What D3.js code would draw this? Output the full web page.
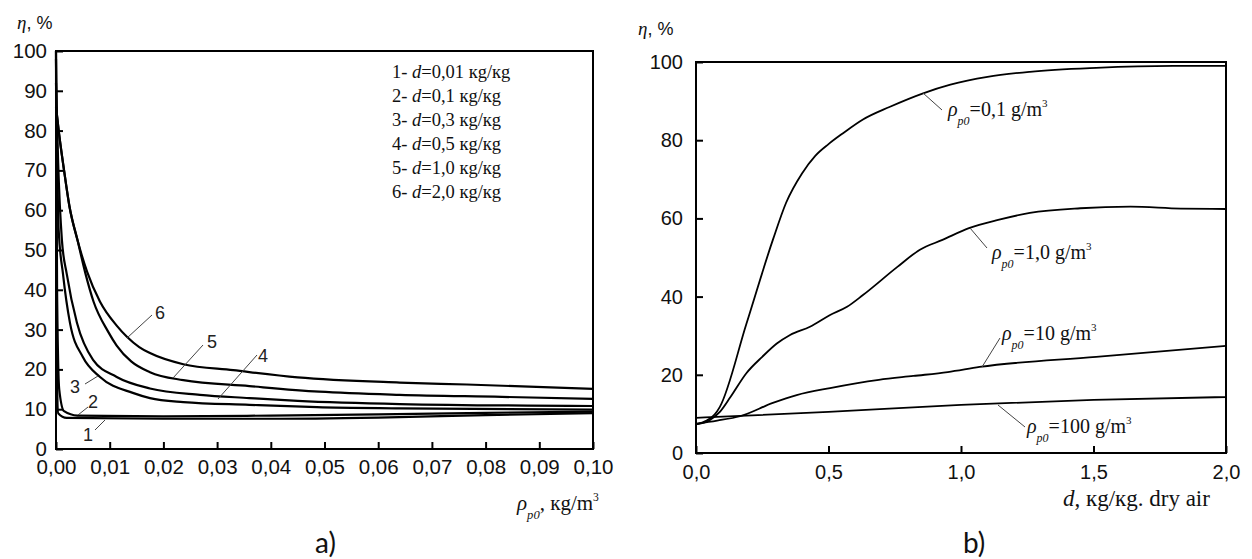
<!DOCTYPE html>
<html><head><meta charset="utf-8">
<script src="https://cdn.jsdelivr.net/npm/d3@7"></script>
<style>body{margin:0;background:#fff}</style>
</head><body><svg id="c" width="1252" height="559"></svg>
<script>
// ---------- data ----------
const leftXTicks = [0,0.01,0.02,0.03,0.04,0.05,0.06,0.07,0.08,0.09,0.10];
const leftYTicks = [0,10,20,30,40,50,60,70,80,90,100];
const rightXTicks = [0,0.5,1.0,1.5,2.0];
const rightYTicks = [0,20,40,60,80,100];

const legendNums = ["1","2","3","4","5","6"];
const legendVals = ["0,01","0,1","0,3","0,5","1,0","2,0"];

// panel a: eta (%) vs rho_p0 (kg/m3), one series per d
const curveD001 = [[0,100],[0.0001,30],[0.0004,9],[0.002,7.8],[0.02,7.6],[0.04,7.6],[0.06,7.9],[0.08,8.5],[0.1,9.0]];
const curveD01  = [[0,100],[0.0002,40],[0.0006,15],[0.0015,9.5],[0.004,8.4],[0.02,8.2],[0.04,8.4],[0.06,8.7],[0.08,9.1],[0.1,9.4]];
const curveD03  = [[0,98],[0.0002,75],[0.0005,55],[0.0013,44],[0.0026,31.7],[0.005,23.1],[0.0082,18.1],[0.0143,14.1],[0.0175,12.8],[0.0237,11.8],[0.036,11.1],[0.0486,10.5],[0.064,10.2],[0.1,9.9]];
const curveD05  = [[0,92],[0.0004,72],[0.0011,52.5],[0.002,44],[0.0039,31.7],[0.0069,22.4],[0.0113,18.1],[0.0175,15.2],[0.0268,13.6],[0.036,12.8],[0.045,12.1],[0.064,11.3],[0.1,10.8]];
const curveD10  = [[0,86],[0.0005,80],[0.0015,70],[0.0025,61],[0.004,52.5],[0.0055,44],[0.007,37],[0.0097,29.5],[0.0113,26],[0.014,22],[0.0175,19.3],[0.0237,17.3],[0.036,15.8],[0.049,14.4],[0.064,13.6],[0.083,13.1],[0.1,12.6]];
const curveD20  = [[0,86],[0.0005,80],[0.0015,70],[0.0025,61],[0.004,52.5],[0.0058,44.5],[0.0082,37],[0.0113,31],[0.0132,28.2],[0.0155,25.6],[0.0175,24.1],[0.0237,21.3],[0.033,19.8],[0.045,18.0],[0.064,16.7],[0.0765,16.2],[0.1,15.1]];
const seriesA = [curveD001, curveD01, curveD03, curveD05, curveD10, curveD20];

// panel b: eta (%) vs d (kg/kg dry air), one series per rho_p0
const rhoLabels = ["0,1","1,0","10","100"];
const curveR01  = [[0,7.3],[0.04,8.3],[0.07,9.8],[0.09,11.8],[0.19,33],[0.29,54.5],[0.34,64],[0.40,71.5],[0.45,76],[0.50,79],[0.555,81.8],[0.63,85.3],[0.73,88.5],[0.857,92],[0.96,94.2],[1.1,96.2],[1.26,97.5],[1.51,98.5],[1.8,99],[2.0,99]];
const curveR1   = [[0,7.3],[0.05,8.3],[0.09,10.5],[0.13,14.3],[0.19,20.4],[0.25,24.6],[0.305,28],[0.355,30.2],[0.43,32.3],[0.506,35.3],[0.57,37.4],[0.63,40.4],[0.76,47.6],[0.845,52],[0.93,54.5],[1.03,57.5],[1.14,59.6],[1.26,61.4],[1.45,62.6],[1.64,63],[1.83,62.5],[2.0,62.4]];
const curveR10  = [[0,7.5],[0.08,8.3],[0.166,9.4],[0.29,12.8],[0.38,14.8],[0.506,16.6],[0.69,18.7],[0.82,19.7],[0.95,20.7],[1.07,22],[1.51,24.6],[2.0,27.4]];
const curveR100 = [[0,9.0],[0.5,10.5],[1.0,12.3],[1.5,13.6],[2.0,14.3]];
const seriesB = [curveR01, curveR1, curveR10, curveR100];

// ---------- drawing ----------
const svg = d3.select("#c");
svg.append("rect").attr("width",1252).attr("height",559).attr("fill","#fff");

const sans = "'Liberation Sans', Arial, sans-serif";
const serif = "'Liberation Serif', 'Times New Roman', serif";

function panel(cfg){
  const x = d3.scaleLinear().domain(cfg.xd).range(cfg.xr);
  const y = d3.scaleLinear().domain([0,100]).range(cfg.yr);
  const g = svg.append("g");
  const ax = g.append("g").attr("transform",`translate(0,${cfg.yr[0]})`)
    .call(d3.axisBottom(x).tickValues(cfg.xt).tickSize(-7).tickPadding(cfg.xpad).tickFormat(cfg.xf));
  const ay = g.append("g").attr("transform",`translate(${cfg.xr[0]},0)`)
    .call(d3.axisLeft(y).tickValues(cfg.yt).tickSize(-7).tickPadding(cfg.ypad).tickFormat(d=>d));
  [ax,ay].forEach(a=>{
    a.select(".domain").remove();
    a.selectAll("line").attr("stroke","#000").attr("stroke-width",2);
    a.selectAll("text").attr("font-family",sans).attr("font-size",cfg.fs).attr("fill","#111");
  });
  const line = d3.line().x(d=>x(d[0])).y(d=>y(d[1])).curve(d3.curveMonotoneX);
  cfg.series.forEach(s=>{
    g.append("path").attr("d",line(s)).attr("fill","none").attr("stroke","#000")
      .attr("stroke-width",cfg.lw).attr("stroke-linejoin","round");
  });
  g.append("rect").attr("x",cfg.xr[0]).attr("y",cfg.yr[1])
    .attr("width",cfg.xr[1]-cfg.xr[0]).attr("height",cfg.yr[0]-cfg.yr[1])
    .attr("fill","none").attr("stroke","#000").attr("stroke-width",2);
  return {x,y,g};
}

const A = panel({xd:[0,0.1], xr:[56,593], yr:[449,51], xt:leftXTicks, yt:leftYTicks,
  xf:d=>d.toFixed(2).replace(".",","), xpad:10, ypad:9, fs:20.5, series:seriesA, lw:2.2});
const B = panel({xd:[0,2], xr:[696,1226], yr:[453,62], xt:rightXTicks, yt:rightYTicks,
  xf:d=>d.toFixed(1).replace(".",","), xpad:12, ypad:13, fs:20, series:seriesB, lw:1.8});

// y titles
function etaTitle(x,yb){
  const t = svg.append("text").attr("x",x).attr("y",yb).attr("font-size",19).attr("fill","#111");
  t.append("tspan").attr("font-family",serif).attr("font-style","italic").text("η");
  t.append("tspan").attr("font-family",sans).attr("font-size",18).text(", %");
}
etaTitle(17,29);
etaTitle(638,35);

// legend panel a
legendNums.forEach((n,i)=>{
  const t = svg.append("text").attr("x",392).attr("y",78+i*24)
    .attr("font-family",serif).attr("font-size",18.5).attr("fill","#111");
  t.append("tspan").text(n+"- ");
  t.append("tspan").attr("font-style","italic").text("d");
  t.append("tspan").text("="+legendVals[i]+" кg/кg");
});

// curve number labels panel a
const numLab = [
  {n:"1", tx:83, ty:441, l:[[95,430],[105,420]]},
  {n:"2", tx:88, ty:408, l:[[78,415],[88,407]]},
  {n:"3", tx:70, ty:393, l:[[85,384],[98,376]]},
  {n:"4", tx:258, ty:362, l:[[218,399],[257,355]]},
  {n:"5", tx:207, ty:348, l:[[173,378],[203,345]]},
  {n:"6", tx:155, ty:319, l:[[127,338],[152,315]]}
];
numLab.forEach(o=>{
  svg.append("line").attr("x1",o.l[0][0]).attr("y1",o.l[0][1]).attr("x2",o.l[1][0]).attr("y2",o.l[1][1])
    .attr("stroke","#444").attr("stroke-width",1);
  svg.append("text").attr("x",o.tx).attr("y",o.ty).attr("font-family",sans).attr("font-size",18)
    .attr("fill","#222").text(o.n);
});

// rho labels panel b
function rhoText(x,yb,val,fs){
  const t = svg.append("text").attr("x",x).attr("y",yb).attr("font-family",serif)
    .attr("font-size",fs).attr("fill","#111");
  t.append("tspan").attr("font-style","italic").text("ρ");
  t.append("tspan").attr("font-style","italic").attr("font-size",fs*0.6).attr("dy",fs*0.45).text("p0");
  t.append("tspan").attr("dy",-fs*0.45).text(val);
  t.append("tspan").attr("font-size",fs*0.55).attr("dy",-fs*0.45).text("3");
  return t;
}
const rhoPos = [
  {tx:948, ty:116, l:[[923,93],[942,110]]},
  {tx:992, ty:259, l:[[970,228],[987,248]]},
  {tx:1002, ty:340, l:[[982,367],[1000,338]]},
  {tx:1027, ty:433, l:[[998,405],[1025,427]]}
];
rhoPos.forEach((o,i)=>{
  svg.append("line").attr("x1",o.l[0][0]).attr("y1",o.l[0][1]).attr("x2",o.l[1][0]).attr("y2",o.l[1][1])
    .attr("stroke","#444").attr("stroke-width",1);
  rhoText(o.tx,o.ty,"="+rhoLabels[i]+" g/m",20);
});

// x titles
(function(){
  const fs=21;
  const t = svg.append("text").attr("x",517).attr("y",510).attr("font-family",serif)
    .attr("font-size",fs).attr("fill","#111");
  t.append("tspan").attr("font-style","italic").text("ρ");
  t.append("tspan").attr("font-style","italic").attr("font-size",fs*0.6).attr("dy",fs*0.45).text("p0");
  t.append("tspan").attr("dy",-fs*0.45).text(", кg/m");
  t.append("tspan").attr("font-size",fs*0.55).attr("dy",-fs*0.45).text("3");
})();
(function(){
  const t = svg.append("text").attr("x",1063).attr("y",506).attr("font-family",serif)
    .attr("font-size",23).attr("fill","#111");
  t.append("tspan").attr("font-style","italic").text("d");
  t.append("tspan").text(", кg/кg. dry air");
})();

// panel letters
svg.append("text").attr("x",315).attr("y",553).attr("font-family","Lato, 'Open Sans', sans-serif")
  .attr("font-size",28).attr("fill","#111").text("a)");
svg.append("text").attr("x",963).attr("y",553).attr("font-family","Lato, 'Open Sans', sans-serif")
  .attr("font-size",28).attr("fill","#111").text("b)");
</script></body></html>
